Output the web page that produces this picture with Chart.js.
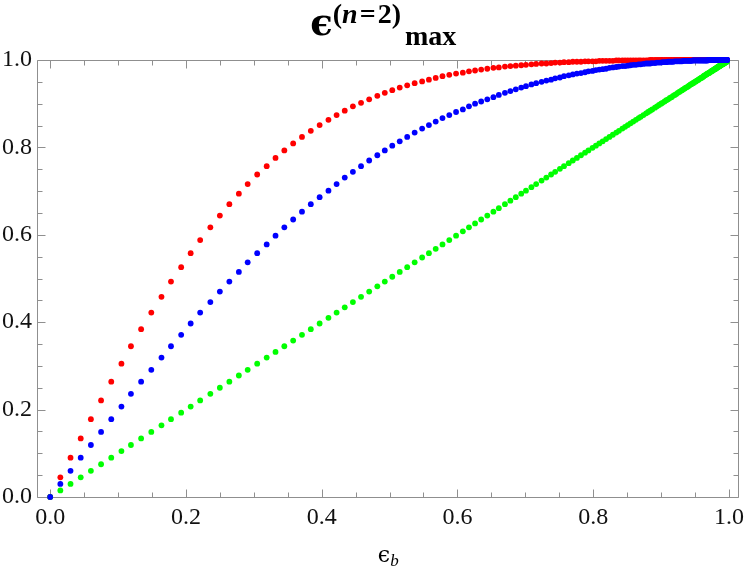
<!DOCTYPE html>
<html><head><meta charset="utf-8">
<script src="https://cdn.jsdelivr.net/npm/chart.js@4.4.1/dist/chart.umd.min.js"></script>
<style>html,body{margin:0;padding:0;background:#fff;}canvas{display:block;}</style>
</head><body>
<canvas id="c" width="750" height="567"></canvas>
<script>
// x values (epsilon_b)
const epsB = [
0.000,0.015,0.030,0.045,0.060,0.075,0.090,0.105,0.119,0.134,
0.149,0.164,0.178,0.193,0.207,0.221,0.236,0.250,0.264,0.278,
0.291,0.305,0.319,0.332,0.345,0.358,0.371,0.384,0.397,0.410,
0.422,0.434,0.446,0.458,0.470,0.482,0.493,0.504,0.515,0.526,
0.537,0.548,0.558,0.568,0.578,0.588,0.598,0.608,0.617,0.626,
0.635,0.644,0.653,0.661,0.670,0.678,0.686,0.694,0.701,0.709,
0.716,0.724,0.731,0.738,0.744,0.751,0.757,0.764,0.770,0.776,
0.782,0.788,0.793,0.799,0.804,0.809,0.814,0.819,0.824,0.829,
0.834,0.838,0.843,0.847,0.851,0.855,0.859,0.863,0.867,0.870,
0.874,0.878,0.881,0.884,0.887,0.891,0.894,0.897,0.900,0.902,
0.9052,0.9078,0.9104,0.9130,0.9154,0.9178,0.9202,0.9224,0.9246,0.9268,
0.9289,0.9309,0.9329,0.9348,0.9367,0.9385,0.9402,0.9419,0.9436,0.9452,
0.9468,0.9483,0.9498,0.9513,0.9527,0.9541,0.9554,0.9567,0.9579,0.9591,
0.9603,0.9615,0.9626,0.9637,0.9647,0.9658,0.9668,0.9677,0.9687,0.9696,
0.9705,0.9713,0.9722,0.9730,0.9738,0.9745,0.9753,0.9760,0.9767,0.9774,
0.9780,0.9787,0.9793,0.9799,0.9805,0.9811,0.9816,0.9822,0.9827,0.9832,
0.9837,0.9842,0.9846,0.9851,0.9855,0.9859,0.9864,0.9868,0.9871,0.9875,
0.9879,0.9882,0.9886,0.9889,0.9892,0.9896,0.9899,0.9902,0.9905,0.9907,
0.9910,0.9913,0.9915,0.9918,0.9920,0.9923,0.9925,0.9927,0.9929,0.9931,
0.9933,0.9935,0.9937,0.9939,0.9941,0.9943,0.9944,0.9946,0.9948,0.9949,
0.9951,0.9952,0.9953,0.9955,0.9956,0.9957,0.9959,0.9960,0.9961,0.9962,
0.9963,0.9964,0.9965,0.9966,0.9967,0.9968,0.9969,0.9970,0.9971,0.9972,
0.9973];

const redVals = [
0,0.045,0.090,0.134,0.178,0.221,0.264,0.305,0.345,0.384,
0.422,0.458,0.493,0.526,0.558,0.588,0.617,0.644,0.670,0.694,
0.716,0.738,0.757,0.776,0.793,0.809,0.824,0.838,0.851,0.863,
0.874,0.884,0.894,0.902,0.910,0.918,0.925,0.931,0.937,0.942,
0.947,0.951,0.955,0.959,0.963,0.966,0.969,0.971,0.974,0.976,
0.978,0.980,0.982,0.983,0.985,0.986,0.987,0.988,0.989,0.990,
0.991,0.992,0.992,0.993,0.994,0.994,0.995,0.995,0.996,0.996,
0.996,0.997,0.997,0.997,0.997,0.998,0.998,0.998,0.998,0.998,
0.999,0.999,0.999,0.999,0.999,0.999,0.999,0.999,0.999,0.999,
0.999,0.999,0.999,1,1,1,1,1,1,1,
1,1,1,1,1,1,1,1,1,1,
1,1,1,1,1,1,1,1,1,1,
1,1,1,1,1,1,1,1,1,1,
1,1,1,1,1,1,1,1,1,1,
1,1,1,1,1,1,1,1,1,1,
1,1,1,1,1,1,1,1,1,1,
1,1,1,1,1,1,1,1,1,1,
1,1,1,1,1,1,1,1,1,1,
1,1,1,1,1,1,1,1,1,1,
1,1,1,1,1,1,1,1,1,1,
1,1,1,1,1,1,1,1,1,1,
1,1,1,1,1,1,1,1,1,1,
1];

const blueVals = [
0,0.030,0.060,0.090,0.119,0.149,0.178,0.207,0.236,0.264,
0.291,0.319,0.345,0.371,0.397,0.422,0.446,0.470,0.493,0.515,
0.537,0.558,0.578,0.598,0.617,0.635,0.653,0.670,0.686,0.701,
0.716,0.731,0.744,0.757,0.770,0.782,0.793,0.804,0.814,0.824,
0.834,0.843,0.851,0.859,0.867,0.874,0.881,0.887,0.894,0.900,
0.905,0.910,0.915,0.920,0.925,0.929,0.933,0.937,0.940,0.944,
0.947,0.950,0.953,0.955,0.958,0.960,0.963,0.965,0.967,0.969,
0.970,0.972,0.974,0.975,0.977,0.978,0.979,0.980,0.982,0.983,
0.984,0.985,0.986,0.986,0.987,0.988,0.989,0.989,0.990,0.990,
0.991,0.992,0.992,0.992,0.993,0.993,0.994,0.994,0.994,0.995,
0.995,0.995,0.996,0.996,0.996,0.996,0.997,0.997,0.997,0.997,
0.997,0.997,0.998,0.998,0.998,0.998,0.998,0.998,0.998,0.998,
0.999,0.999,0.999,0.999,0.999,0.999,0.999,0.999,0.999,0.999,
0.999,0.999,0.999,0.999,0.999,0.999,0.999,0.999,0.999,1,
1,1,1,1,1,1,1,1,1,1,
1,1,1,1,1,1,1,1,1,1,
1,1,1,1,1,1,1,1,1,1,
1,1,1,1,1,1,1,1,1,1,
1,1,1,1,1,1,1,1,1,1,
1,1,1,1,1,1,1,1,1,1,
1,1,1,1,1,1,1,1,1,1,
1,1,1,1,1,1,1,1,1,1,
1];

const greenVals = [
0.000,0.015,0.030,0.045,0.060,0.075,0.090,0.105,0.119,0.134,
0.149,0.164,0.178,0.193,0.207,0.221,0.236,0.250,0.264,0.278,
0.291,0.305,0.319,0.332,0.345,0.358,0.371,0.384,0.397,0.410,
0.422,0.434,0.446,0.458,0.470,0.482,0.493,0.504,0.515,0.526,
0.537,0.548,0.558,0.568,0.578,0.588,0.598,0.608,0.617,0.626,
0.635,0.644,0.653,0.661,0.670,0.678,0.686,0.694,0.701,0.709,
0.716,0.724,0.731,0.738,0.744,0.751,0.757,0.764,0.770,0.776,
0.782,0.788,0.793,0.799,0.804,0.809,0.814,0.819,0.824,0.829,
0.834,0.838,0.843,0.847,0.851,0.855,0.859,0.863,0.867,0.870,
0.874,0.878,0.881,0.884,0.887,0.891,0.894,0.897,0.900,0.902,
0.905,0.908,0.910,0.913,0.915,0.918,0.920,0.922,0.925,0.927,
0.929,0.931,0.933,0.935,0.937,0.938,0.940,0.942,0.944,0.945,
0.947,0.948,0.950,0.951,0.953,0.954,0.955,0.957,0.958,0.959,
0.960,0.961,0.963,0.964,0.965,0.966,0.967,0.968,0.969,0.970,
0.970,0.971,0.972,0.973,0.974,0.975,0.975,0.976,0.977,0.977,
0.978,0.979,0.979,0.980,0.980,0.981,0.982,0.982,0.983,0.983,
0.984,0.984,0.985,0.985,0.986,0.986,0.986,0.987,0.987,0.988,
0.988,0.988,0.989,0.989,0.989,0.990,0.990,0.990,0.990,0.991,
0.991,0.991,0.992,0.992,0.992,0.992,0.992,0.993,0.993,0.993,
0.993,0.994,0.994,0.994,0.994,0.994,0.994,0.995,0.995,0.995,
0.995,0.995,0.995,0.995,0.996,0.996,0.996,0.996,0.996,0.996,
0.996,0.996,0.997,0.997,0.997,0.997,0.997,0.997,0.997,0.997,
0.997];

const xTickVals = [0, 0.2, 0.4, 0.6, 0.8, 1.0];
const yTickVals = [0, 0.2, 0.4, 0.6, 0.8, 1.0];
const minorTickVals = [0.05,0.1,0.15,0.25,0.3,0.35,0.45,0.5,0.55,0.65,0.7,0.75,0.85,0.9,0.95];
const xRange = [-0.0194, 1.0127];
const yRange = [0, 1];

function pts(ys) { return epsB.map((x, i) => ({ x: x, y: ys[i] })); }

const FRAME = '#8f8f8f';
const MAJOR = 8, MINOR = 5;

const framePlugin = {
  id: 'frameTicks',
  beforeDatasetsDraw(chart) {
    const ctx = chart.ctx, a = chart.chartArea;
    const xs = chart.scales.x, ys = chart.scales.y;
    const L = Math.round(a.left) + 0.5, R = Math.round(a.right) + 0.5;
    const T = Math.round(a.top) + 0.5, B = Math.round(a.bottom) + 0.5;
    ctx.save();
    ctx.strokeStyle = FRAME;
    ctx.lineWidth = 1;
    ctx.beginPath();
    ctx.rect(L, T, R - L, B - T);
    ctx.stroke();
    ctx.beginPath();
    const doX = (v, len) => {
      const px = Math.round(xs.getPixelForValue(v)) + 0.5;
      ctx.moveTo(px, B); ctx.lineTo(px, B - len);
      ctx.moveTo(px, T); ctx.lineTo(px, T + len);
    };
    const doY = (v, len) => {
      const py = Math.round(ys.getPixelForValue(v)) + 0.5;
      ctx.moveTo(L, py); ctx.lineTo(L + len, py);
      ctx.moveTo(R, py); ctx.lineTo(R - len, py);
    };
    xTickVals.forEach(v => doX(v, MAJOR));
    minorTickVals.forEach(v => doX(v, MINOR));
    yTickVals.forEach(v => doY(v, MAJOR));
    minorTickVals.forEach(v => doY(v, MINOR));
    ctx.stroke();
    ctx.restore();
  },
  afterDraw(chart) {
    const ctx = chart.ctx, a = chart.chartArea;
    const cx = (a.left + a.right) / 2;
    ctx.save();
    ctx.fillStyle = '#000';
    ctx.textBaseline = 'alphabetic';
    ctx.textAlign = 'left';
    // Title: epsilon^(n=2)_max
    const fEps = 'bold 37px "DejaVu Serif", serif';
    const fSup = 'bold 28px "Liberation Serif", serif';
    const fSupI = 'italic bold 28px "Liberation Serif", serif';
    const fSub = 'bold 28px "Liberation Serif", serif';
    const parts = [
      { t: '\u03F5', f: fEps, y: 35, gap: 0 },
      { t: '(', f: fSup, y: 23, gap: 0 },
      { t: 'n', f: fSupI, y: 23, gap: 2 },
      { t: '=', f: fSup, y: 23, gap: 2 },
      { t: '2', f: fSup, y: 23, gap: 0 },
      { t: ')', f: fSup, y: 23, gap: 4 },
      { t: 'max', f: fSub, y: 45, gap: 0 }
    ];
    let total = 0;
    parts.forEach(p => { ctx.font = p.f; p.w = ctx.measureText(p.t).width; total += p.w + p.gap; });
    let x = cx - 4 - total / 2;
    parts.forEach(p => { ctx.font = p.f; ctx.fillText(p.t, x, p.y); x += p.w + p.gap; });
    // x-axis label: epsilon_b
    ctx.font = '22px "DejaVu Serif", serif';
    const we = ctx.measureText('\u03F5').width;
    ctx.font = 'italic 17px "Liberation Serif", serif';
    const wb = ctx.measureText('b').width;
    let lx = cx + 1 - (we + wb) / 2;
    ctx.font = '22px "DejaVu Serif", serif';
    ctx.fillText('\u03F5', lx, 562);
    ctx.font = 'italic 17px "Liberation Serif", serif';
    ctx.fillText('b', lx + we, 566);
    ctx.restore();
  }
};

Chart.defaults.font.family = '"Liberation Serif", serif';
const tickFont = { family: '"Liberation Serif", serif', size: 24, weight: 'normal' };

new Chart(document.getElementById('c'), {
  type: 'scatter',
  data: {
    datasets: [
      { label: 'blue', data: pts(blueVals), backgroundColor: '#0000ff', borderWidth: 0, pointRadius: 2.9, clip: false },
      { label: 'green', data: pts(greenVals), backgroundColor: '#00ff00', borderWidth: 0, pointRadius: 2.9, clip: false },
      { label: 'red', data: pts(redVals), backgroundColor: '#ff0000', borderWidth: 0, pointRadius: 2.9, clip: false }
    ]
  },
  options: {
    responsive: false,
    animation: false,
    devicePixelRatio: 1,
    layout: { padding: { top: 60, right: 6, left: 0, bottom: 0 } },
    plugins: { legend: { display: false }, tooltip: { enabled: false }, title: { display: false } },
    events: [],
    scales: {
      x: {
        type: 'linear', min: xRange[0], max: xRange[1],
        grid: { display: false, drawTicks: false },
        border: { display: false },
        ticks: { font: tickFont, color: '#111', padding: 6, maxRotation: 0, autoSkip: false,
                 callback: (v) => Number(v).toFixed(1) },
        afterBuildTicks: (s) => { s.ticks = xTickVals.map(v => ({ value: v })); },
        afterFit: (s) => { s.height = 70; }
      },
      y: {
        type: 'linear', min: yRange[0], max: yRange[1],
        grid: { display: false, drawTicks: false },
        border: { display: false },
        ticks: { font: tickFont, color: '#111', padding: 5, autoSkip: false,
                 callback: (v) => Number(v).toFixed(1) },
        afterBuildTicks: (s) => { s.ticks = yTickVals.map(v => ({ value: v })); },
        afterFit: (s) => { s.width = 37; }
      }
    }
  },
  plugins: [framePlugin]
});
</script>
</body></html>
